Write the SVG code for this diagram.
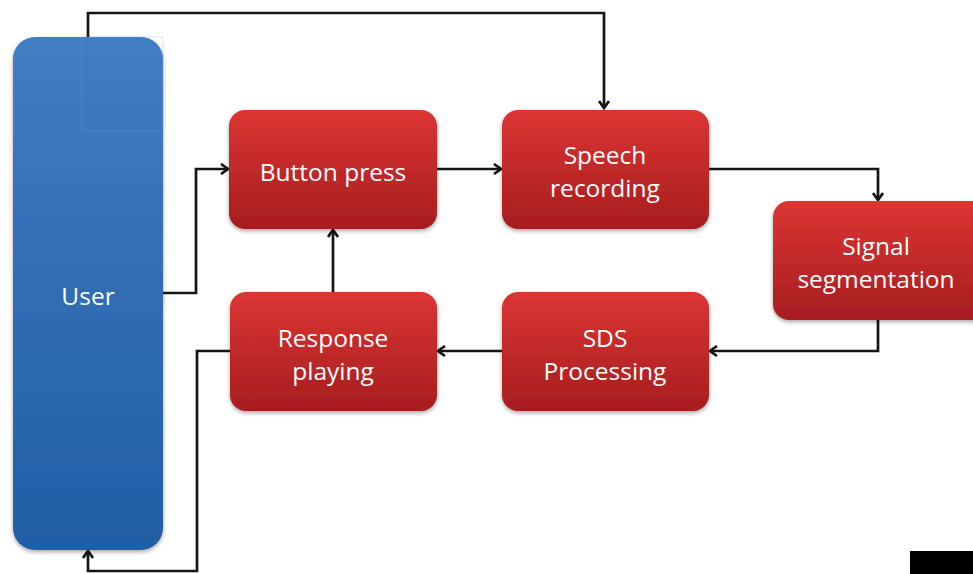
<svg xmlns="http://www.w3.org/2000/svg" width="973" height="574" viewBox="0 0 973 574">
<style>
.lbl{font-family:"Open Sans","Liberation Sans",sans-serif;font-size:24.5px;fill:#ffffff;text-anchor:middle;dominant-baseline:central}
.conn{fill:none;stroke:#151515;stroke-width:2.7}
.red{fill:url(#gRed);filter:url(#sh)}
</style>
<defs>
<linearGradient id="gRed" x1="0" y1="0" x2="0" y2="1">
<stop offset="0" stop-color="#dc3533"/>
<stop offset="1" stop-color="#a61d1f"/>
</linearGradient>
<linearGradient id="gBlue" x1="0" y1="0" x2="0" y2="1">
<stop offset="0" stop-color="#437cc2"/>
<stop offset="1" stop-color="#1f5ea6"/>
</linearGradient>
<filter id="sh" x="-10%" y="-10%" width="120%" height="130%">
<feDropShadow dx="0" dy="2" stdDeviation="2" flood-color="#000" flood-opacity="0.35"/>
</filter>
<marker id="arr" markerWidth="12" markerHeight="12" refX="10" refY="6" orient="auto" markerUnits="userSpaceOnUse">
<path d="M3,1 L10,6 L3,11" fill="none" stroke="#151515" stroke-width="2.7"/>
</marker>
</defs>
<rect width="973" height="574" fill="#ffffff"/>
<g id="connectors">
<polyline class="conn" points="88,37 88,13 604,13 604,108" marker-end="url(#arr)"/>
<polyline class="conn" points="163,293 196,293 196,169 228,169" marker-end="url(#arr)"/>
<polyline class="conn" points="437,169 501,169" marker-end="url(#arr)"/>
<polyline class="conn" points="709,169 878,169 878,200" marker-end="url(#arr)"/>
<polyline class="conn" points="878,320 878,351 710,351" marker-end="url(#arr)"/>
<polyline class="conn" points="502,351 438,351" marker-end="url(#arr)"/>
<polyline class="conn" points="333,292 333,230" marker-end="url(#arr)"/>
<polyline class="conn" points="230,351 197,351 197,571 88,571 88,551" marker-end="url(#arr)"/>
</g>
<g id="user">
<rect x="13" y="37" width="150" height="513" rx="22" fill="url(#gBlue)" filter="url(#sh)"/>
<rect x="82" y="37" width="81" height="94" fill="none" stroke="#7aa6da" stroke-width="0.6" opacity="0.5"/>
<text class="lbl" x="88" y="295">User</text>
</g>
<g id="button-press">
<rect class="red" x="229" y="110" width="208" height="119" rx="16"/>
<text class="lbl" x="333" y="171">Button press</text>
</g>
<g id="speech-recording">
<rect class="red" x="502" y="110" width="207" height="119" rx="16"/>
<text class="lbl" x="605" y="154">Speech</text>
<text class="lbl" x="605" y="187">recording</text>
</g>
<g id="signal-segmentation">
<rect class="red" x="773" y="201" width="215" height="119" rx="16"/>
<text class="lbl" x="876" y="245">Signal</text>
<text class="lbl" x="876" y="278">segmentation</text>
</g>
<g id="sds-processing">
<rect class="red" x="502" y="292" width="207" height="119" rx="16"/>
<text class="lbl" x="605" y="337">SDS</text>
<text class="lbl" x="605" y="370">Processing</text>
</g>
<g id="response-playing">
<rect class="red" x="230" y="292" width="207" height="119" rx="16"/>
<text class="lbl" x="333" y="337">Response</text>
<text class="lbl" x="333" y="370">playing</text>
</g>
<rect x="910" y="551" width="63" height="23" fill="#000000"/>
</svg>
